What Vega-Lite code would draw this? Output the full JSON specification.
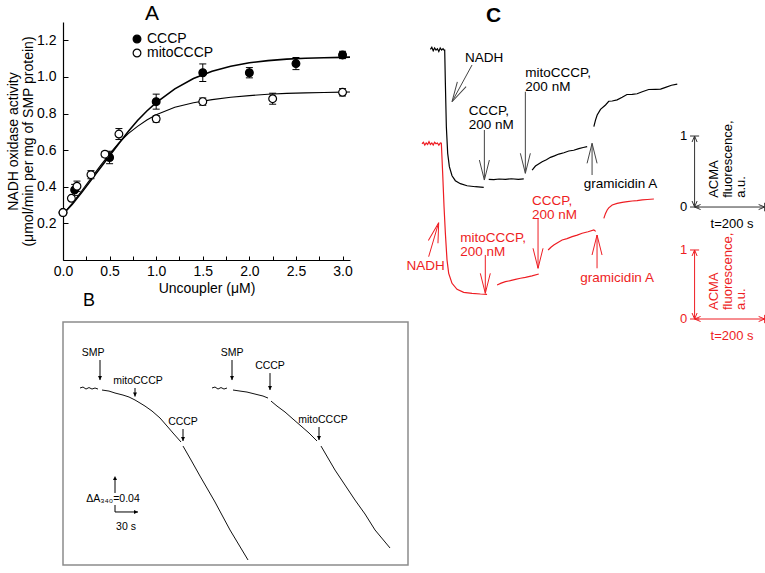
{
  "$schema": "https://vega.github.io/schema/vega-lite/v6.json",
  "background": "white",
  "padding": {"left": 6, "top": 3, "right": 0, "bottom": 1},
  "config": {
    "font": "Liberation Sans",
    "view": {"stroke": null},
    "axis": {"grid": false, "domainColor": "black", "tickColor": "black", "labelColor": "black", "titleColor": "black", "titleFontWeight": "normal", "labelFont": "Liberation Sans", "titleFont": "Liberation Sans"},
    "legend": {"labelFont": "Liberation Sans", "labelColor": "black"},
    "title": {"font": "Liberation Sans", "color": "black"},
    "text": {"font": "Liberation Sans"}
  },
  "datasets": {
    "curveA": [
      {"x": 0, "y": 0.25, "series": "CCCP"}, {"x": 0.1, "y": 0.305, "series": "CCCP"}, {"x": 0.2, "y": 0.368, "series": "CCCP"}, {"x": 0.3, "y": 0.435, "series": "CCCP"}, {"x": 0.4, "y": 0.503, "series": "CCCP"}, {"x": 0.5, "y": 0.57, "series": "CCCP"}, {"x": 0.6, "y": 0.636, "series": "CCCP"}, {"x": 0.7, "y": 0.702, "series": "CCCP"}, {"x": 0.8, "y": 0.762, "series": "CCCP"}, {"x": 0.9, "y": 0.814, "series": "CCCP"}, {"x": 1.0, "y": 0.86, "series": "CCCP"}, {"x": 1.2, "y": 0.935, "series": "CCCP"}, {"x": 1.4, "y": 0.991, "series": "CCCP"}, {"x": 1.6, "y": 1.031, "series": "CCCP"}, {"x": 1.8, "y": 1.058, "series": "CCCP"}, {"x": 2.0, "y": 1.077, "series": "CCCP"}, {"x": 2.2, "y": 1.089, "series": "CCCP"}, {"x": 2.4, "y": 1.097, "series": "CCCP"}, {"x": 2.6, "y": 1.102, "series": "CCCP"}, {"x": 2.8, "y": 1.105, "series": "CCCP"}, {"x": 3.0, "y": 1.107, "series": "CCCP"}, {"x": 3.08, "y": 1.108, "series": "CCCP"},
      {"x": 0, "y": 0.25, "series": "mitoCCCP"}, {"x": 0.1, "y": 0.31, "series": "mitoCCCP"}, {"x": 0.2, "y": 0.377, "series": "mitoCCCP"}, {"x": 0.3, "y": 0.446, "series": "mitoCCCP"}, {"x": 0.4, "y": 0.514, "series": "mitoCCCP"}, {"x": 0.5, "y": 0.58, "series": "mitoCCCP"}, {"x": 0.6, "y": 0.64, "series": "mitoCCCP"}, {"x": 0.7, "y": 0.69, "series": "mitoCCCP"}, {"x": 0.8, "y": 0.73, "series": "mitoCCCP"}, {"x": 0.9, "y": 0.765, "series": "mitoCCCP"}, {"x": 1.0, "y": 0.793, "series": "mitoCCCP"}, {"x": 1.2, "y": 0.834, "series": "mitoCCCP"}, {"x": 1.4, "y": 0.859, "series": "mitoCCCP"}, {"x": 1.6, "y": 0.876, "series": "mitoCCCP"}, {"x": 1.8, "y": 0.889, "series": "mitoCCCP"}, {"x": 2.0, "y": 0.898, "series": "mitoCCCP"}, {"x": 2.2, "y": 0.905, "series": "mitoCCCP"}, {"x": 2.4, "y": 0.91, "series": "mitoCCCP"}, {"x": 2.6, "y": 0.913, "series": "mitoCCCP"}, {"x": 2.8, "y": 0.915, "series": "mitoCCCP"}, {"x": 3.0, "y": 0.917, "series": "mitoCCCP"}, {"x": 3.08, "y": 0.918, "series": "mitoCCCP"}
    ],
    "ptsA": [
      {"x": 0, "y": 0.259, "lo": 0.259, "hi": 0.259, "series": "CCCP"}, {"x": 0.125, "y": 0.383, "lo": 0.353, "hi": 0.413, "series": "CCCP"}, {"x": 0.5, "y": 0.56, "lo": 0.526, "hi": 0.594, "series": "CCCP"}, {"x": 1.0, "y": 0.865, "lo": 0.824, "hi": 0.906, "series": "CCCP"}, {"x": 1.5, "y": 1.023, "lo": 0.975, "hi": 1.071, "series": "CCCP"}, {"x": 2.0, "y": 1.023, "lo": 0.995, "hi": 1.051, "series": "CCCP"}, {"x": 2.5, "y": 1.073, "lo": 1.04, "hi": 1.106, "series": "CCCP"}, {"x": 3.0, "y": 1.12, "lo": 1.1, "hi": 1.14, "series": "CCCP"},
      {"x": 0, "y": 0.259, "lo": 0.259, "hi": 0.259, "series": "mitoCCCP"}, {"x": 0.09, "y": 0.337, "lo": 0.327, "hi": 0.347, "series": "mitoCCCP"}, {"x": 0.15, "y": 0.403, "lo": 0.375, "hi": 0.431, "series": "mitoCCCP"}, {"x": 0.3, "y": 0.466, "lo": 0.444, "hi": 0.488, "series": "mitoCCCP"}, {"x": 0.45, "y": 0.578, "lo": 0.563, "hi": 0.593, "series": "mitoCCCP"}, {"x": 0.6, "y": 0.688, "lo": 0.658, "hi": 0.718, "series": "mitoCCCP"}, {"x": 1.0, "y": 0.771, "lo": 0.753, "hi": 0.789, "series": "mitoCCCP"}, {"x": 1.5, "y": 0.865, "lo": 0.845, "hi": 0.885, "series": "mitoCCCP"}, {"x": 2.25, "y": 0.881, "lo": 0.851, "hi": 0.911, "series": "mitoCCCP"}, {"x": 3.0, "y": 0.916, "lo": 0.896, "hi": 0.936, "series": "mitoCCCP"}
    ],
    "trB": [
      {"t": 13, "A": 0.236, "seg": "L1"}, {"t": 16.9, "A": 0.2373, "seg": "L1"}, {"t": 20.8, "A": 0.2346, "seg": "L1"}, {"t": 24.7, "A": 0.2366, "seg": "L1"}, {"t": 28.6, "A": 0.2346, "seg": "L1"}, {"t": 32.5, "A": 0.236, "seg": "L1"}, {"t": 36.4, "A": 0.2346, "seg": "L1"},
      {"t": 41.6, "A": 0.2333, "seg": "L2"}, {"t": 50.7, "A": 0.2319, "seg": "L2"}, {"t": 58.5, "A": 0.2293, "seg": "L2"}, {"t": 68.9, "A": 0.2266, "seg": "L2"}, {"t": 76.7, "A": 0.224, "seg": "L2"}, {"t": 84.5, "A": 0.22, "seg": "L2"}, {"t": 91, "A": 0.216, "seg": "L2"}, {"t": 97.5, "A": 0.2119, "seg": "L2"}, {"t": 106.6, "A": 0.2053, "seg": "L2"}, {"t": 117, "A": 0.196, "seg": "L2"}, {"t": 126.1, "A": 0.1853, "seg": "L2"}, {"t": 133.9, "A": 0.176, "seg": "L2"}, {"t": 144.3, "A": 0.164, "seg": "L2"},
      {"t": 146.9, "A": 0.1586, "seg": "L3"}, {"t": 157.3, "A": 0.14, "seg": "L3"}, {"t": 169, "A": 0.1186, "seg": "L3"}, {"t": 188.5, "A": 0.084, "seg": "L3"}, {"t": 208, "A": 0.0467, "seg": "L3"}, {"t": 231.4, "A": 0.0067, "seg": "L3"},
      {"t": 184.6, "A": 0.236, "seg": "R1"}, {"t": 188.5, "A": 0.2373, "seg": "R1"}, {"t": 192.4, "A": 0.2346, "seg": "R1"}, {"t": 196.3, "A": 0.2366, "seg": "R1"}, {"t": 200.2, "A": 0.2346, "seg": "R1"}, {"t": 204.1, "A": 0.236, "seg": "R1"},
      {"t": 211.9, "A": 0.2333, "seg": "R2"}, {"t": 221, "A": 0.2319, "seg": "R2"}, {"t": 230.1, "A": 0.2306, "seg": "R2"}, {"t": 237.9, "A": 0.2286, "seg": "R2"}, {"t": 245.7, "A": 0.2266, "seg": "R2"}, {"t": 250.9, "A": 0.2253, "seg": "R2"}, {"t": 257.4, "A": 0.2226, "seg": "R2"},
      {"t": 261.3, "A": 0.2186, "seg": "R3"}, {"t": 269.1, "A": 0.2119, "seg": "R3"}, {"t": 279.5, "A": 0.204, "seg": "R3"}, {"t": 289.9, "A": 0.1946, "seg": "R3"}, {"t": 300.3, "A": 0.1853, "seg": "R3"}, {"t": 310.7, "A": 0.176, "seg": "R3"}, {"t": 321.1, "A": 0.1653, "seg": "R3"},
      {"t": 326.3, "A": 0.1586, "seg": "R4"}, {"t": 344.5, "A": 0.1266, "seg": "R4"}, {"t": 357.5, "A": 0.1066, "seg": "R4"}, {"t": 370.5, "A": 0.0866, "seg": "R4"}, {"t": 383.5, "A": 0.068, "seg": "R4"}, {"t": 396.5, "A": 0.0467, "seg": "R4"}, {"t": 416, "A": 0.0227, "seg": "R4"}
    ],
    "arB": [
      {"t": 39.0, "a1": 0.2733, "a2": 0.2466}, {"t": 84.5, "a1": 0.236, "a2": 0.2246}, {"t": 146.9, "a1": 0.1813, "a2": 0.1653},
      {"t": 210.6, "a1": 0.2733, "a2": 0.2466}, {"t": 260.0, "a1": 0.2559, "a2": 0.2333}, {"t": 323.7, "a1": 0.184, "a2": 0.1666}
    ],
    "lbB": [
      {"t": 29.9, "A": 0.2826, "text": "SMP"}, {"t": 88.4, "A": 0.2453, "text": "mitoCCCP"}, {"t": 146.9, "A": 0.1906, "text": "CCCP"},
      {"t": 210.6, "A": 0.2826, "text": "SMP"}, {"t": 260.0, "A": 0.2653, "text": "CCCP"}, {"t": 328.9, "A": 0.1933, "text": "mitoCCCP"}
    ],
    "sbBrule": [
      {"t1": 58.5, "a1": 0.0707, "t2": 58.5, "a2": 0.08}, {"t1": 58.5, "a1": 0.096, "t2": 58.5, "a2": 0.116}, {"t1": 58.5, "a1": 0.0707, "t2": 88.4, "a2": 0.0707}
    ],
    "sbBhead": [
      {"t": 58.5, "a": 0.1186, "dir": "up"}, {"t": 88.4, "a": 0.0707, "dir": "right"}
    ],
    "sbBtext": [
      {"t": 55.9, "a": 0.0886, "text": "ΔA₃₄₀=0.04"}, {"t": 72.8, "a": 0.0507, "text": "30 s"}
    ],
    "trCb": [
      {"t": 24, "v": 2.22, "seg": 1}, {"t": 28, "v": 2.25, "seg": 1}, {"t": 32, "v": 2.2, "seg": 1}, {"t": 36, "v": 2.24, "seg": 1}, {"t": 40, "v": 2.21, "seg": 1}, {"t": 44, "v": 2.23, "seg": 1}, {"t": 48, "v": 2.19, "seg": 1}, {"t": 52, "v": 2.24, "seg": 1}, {"t": 56, "v": 2.21, "seg": 1}, {"t": 60, "v": 2.23, "seg": 1}, {"t": 63, "v": 2.21, "seg": 1}, {"t": 64.8, "v": 2.21, "seg": 1}, {"t": 66.7, "v": 1.742, "seg": 1}, {"t": 69.5, "v": 1.131, "seg": 1}, {"t": 73.3, "v": 0.756, "seg": 1}, {"t": 78.1, "v": 0.568, "seg": 1}, {"t": 85.7, "v": 0.441, "seg": 1}, {"t": 95.2, "v": 0.371, "seg": 1}, {"t": 109.5, "v": 0.329, "seg": 1}, {"t": 128.6, "v": 0.3, "seg": 1}, {"t": 152.4, "v": 0.286, "seg": 1}, {"t": 176.2, "v": 0.277, "seg": 1},
      {"t": 190.5, "v": 0.39, "seg": 2}, {"t": 205, "v": 0.385, "seg": 2}, {"t": 220, "v": 0.395, "seg": 2}, {"t": 238.1, "v": 0.39, "seg": 2}, {"t": 255, "v": 0.398, "seg": 2}, {"t": 275, "v": 0.39, "seg": 2}, {"t": 290.5, "v": 0.396, "seg": 2},
      {"t": 314.3, "v": 0.521, "seg": 3}, {"t": 323.8, "v": 0.577, "seg": 3}, {"t": 342.9, "v": 0.638, "seg": 3}, {"t": 355, "v": 0.665, "seg": 3}, {"t": 366.7, "v": 0.7, "seg": 3}, {"t": 378, "v": 0.72, "seg": 3}, {"t": 390.5, "v": 0.746, "seg": 3}, {"t": 405, "v": 0.765, "seg": 3}, {"t": 419, "v": 0.789, "seg": 3}, {"t": 433, "v": 0.8, "seg": 3}, {"t": 447.6, "v": 0.822, "seg": 3}, {"t": 460, "v": 0.838, "seg": 3}, {"t": 471.4, "v": 0.85, "seg": 3},
      {"t": 490.5, "v": 1.131, "seg": 4}, {"t": 495.2, "v": 1.225, "seg": 4}, {"t": 500, "v": 1.296, "seg": 4}, {"t": 509.5, "v": 1.376, "seg": 4}, {"t": 523.8, "v": 1.437, "seg": 4}, {"t": 533, "v": 1.49, "seg": 4}, {"t": 542.9, "v": 1.493, "seg": 4}, {"t": 557, "v": 1.51, "seg": 4}, {"t": 571.4, "v": 1.545, "seg": 4}, {"t": 585, "v": 1.585, "seg": 4}, {"t": 600, "v": 1.587, "seg": 4}, {"t": 614, "v": 1.595, "seg": 4}, {"t": 628.6, "v": 1.624, "seg": 4}, {"t": 647, "v": 1.655, "seg": 4}, {"t": 666.7, "v": 1.657, "seg": 4}, {"t": 681, "v": 1.66, "seg": 4}, {"t": 695.2, "v": 1.685, "seg": 4}, {"t": 712, "v": 1.715, "seg": 4}, {"t": 728.6, "v": 1.732, "seg": 4}
    ],
    "trCr": [
      {"t": 0, "v": 2.54, "seg": 1}, {"t": 4, "v": 2.56, "seg": 1}, {"t": 8, "v": 2.52, "seg": 1}, {"t": 12, "v": 2.55, "seg": 1}, {"t": 16, "v": 2.53, "seg": 1}, {"t": 20, "v": 2.57, "seg": 1}, {"t": 24, "v": 2.53, "seg": 1}, {"t": 28, "v": 2.55, "seg": 1}, {"t": 32, "v": 2.52, "seg": 1}, {"t": 36, "v": 2.56, "seg": 1}, {"t": 40, "v": 2.54, "seg": 1}, {"t": 44, "v": 2.55, "seg": 1}, {"t": 48, "v": 2.52, "seg": 1}, {"t": 52.4, "v": 2.55, "seg": 1}, {"t": 55.2, "v": 2.546, "seg": 1}, {"t": 59, "v": 2.111, "seg": 1}, {"t": 62.9, "v": 1.628, "seg": 1}, {"t": 66.7, "v": 1.242, "seg": 1}, {"t": 71.4, "v": 0.855, "seg": 1}, {"t": 76.2, "v": 0.662, "seg": 1}, {"t": 85.7, "v": 0.517, "seg": 1}, {"t": 100, "v": 0.43, "seg": 1}, {"t": 119, "v": 0.386, "seg": 1}, {"t": 142.9, "v": 0.372, "seg": 1}, {"t": 166.7, "v": 0.362, "seg": 1}, {"t": 185.7, "v": 0.357, "seg": 1},
      {"t": 214.3, "v": 0.493, "seg": 2}, {"t": 226, "v": 0.52, "seg": 2}, {"t": 238.1, "v": 0.541, "seg": 2}, {"t": 252, "v": 0.555, "seg": 2}, {"t": 266.7, "v": 0.575, "seg": 2}, {"t": 281, "v": 0.59, "seg": 2}, {"t": 295.2, "v": 0.604, "seg": 2}, {"t": 314, "v": 0.625, "seg": 2}, {"t": 333.3, "v": 0.652, "seg": 2},
      {"t": 360, "v": 1.0, "seg": 3}, {"t": 368, "v": 1.04, "seg": 3}, {"t": 376.2, "v": 1.072, "seg": 3}, {"t": 388, "v": 1.11, "seg": 3}, {"t": 400, "v": 1.145, "seg": 3}, {"t": 414, "v": 1.165, "seg": 3}, {"t": 428.6, "v": 1.193, "seg": 3}, {"t": 443, "v": 1.215, "seg": 3}, {"t": 457.1, "v": 1.242, "seg": 3}, {"t": 474, "v": 1.265, "seg": 3}, {"t": 490.5, "v": 1.29, "seg": 3}, {"t": 496, "v": 1.27, "seg": 3},
      {"t": 519, "v": 1.459, "seg": 4}, {"t": 523.8, "v": 1.53, "seg": 4}, {"t": 528.6, "v": 1.58, "seg": 4}, {"t": 533, "v": 1.61, "seg": 4}, {"t": 542.9, "v": 1.652, "seg": 4}, {"t": 557, "v": 1.675, "seg": 4}, {"t": 571.4, "v": 1.691, "seg": 4}, {"t": 586, "v": 1.7, "seg": 4}, {"t": 600, "v": 1.71, "seg": 4}, {"t": 614, "v": 1.715, "seg": 4}, {"t": 628.6, "v": 1.725, "seg": 4}, {"t": 643, "v": 1.732, "seg": 4}, {"t": 661.9, "v": 1.739, "seg": 4}
    ],
    "arCb": [
      {"t1": 142.8, "v1": 2.0, "t2": 85.7, "v2": 1.483, "dir": "diag"},
      {"t1": 178, "v1": 1.085, "t2": 178, "v2": 0.38, "dir": "down"},
      {"t1": 295, "v1": 1.624, "t2": 295, "v2": 0.475, "dir": "down"},
      {"t1": 485.4, "v1": 0.451, "t2": 485.4, "v2": 0.897, "dir": "up"}
    ],
    "arCr": [
      {"t1": 19.0, "v1": 0.903, "t2": 47.6, "v2": 1.396, "dir": "diag"},
      {"t1": 180.7, "v1": 0.928, "t2": 180.7, "v2": 0.372, "dir": "down"},
      {"t1": 331.2, "v1": 1.459, "t2": 331.2, "v2": 0.735, "dir": "down"},
      {"t1": 499.6, "v1": 0.735, "t2": 499.6, "v2": 1.217, "dir": "up"}
    ],
    "lbCb": [
      {"t": 122.8, "v": 2.046, "text": "NADH"},
      {"t": 133.3, "v": 1.296, "text": "CCCP,\n200 nM"},
      {"t": 295, "v": 1.835, "text": "mitoCCCP,\n200 nM"},
      {"t": 461.6, "v": 0.263, "text": "gramicidin A"}
    ],
    "lbCr": [
      {"t": -44.3, "v": 0.71, "text": "NADH"},
      {"t": 109.4, "v": 1.12, "text": "mitoCCCP,\n200 nM"},
      {"t": 314, "v": 1.652, "text": "CCCP,\n200 nM"},
      {"t": 452, "v": 0.541, "text": "gramicidin A"}
    ],
    "sbRule": [
      {"t1": 778, "v1": 0, "t2": 778, "v2": 1}, {"t1": 778, "v1": 0, "t2": 978, "v2": 0},
      {"t1": 765, "v1": 1, "t2": 791, "v2": 1}, {"t1": 765, "v1": 0, "t2": 791, "v2": 0},
      {"t1": 978, "v1": -0.06, "t2": 978, "v2": 0.06}
    ],
    "sbHead": [
      {"t": 778, "v": 1, "dir": "up"}, {"t": 778, "v": 0, "dir": "down"}, {"t": 778, "v": 0, "dir": "left"}, {"t": 978, "v": 0, "dir": "right"}
    ],
    "sbNum": [{"t": 757, "v": 1, "text": "1"}, {"t": 757, "v": 0, "text": "0"}],
    "sbT": [{"t": 885, "v": -0.24, "text": "t=200 s"}],
    "sbAcma": [{"t": 816.5, "v": 0.13, "text": "ACMA\nfluorescence,\na.u."}]
  },
  "bounds": "flush",
  "columns": 2,
  "spacing": {"row": 4, "column": 14},
  "resolve": {"scale": {"fill": "independent"}, "legend": {"fill": "independent"}},
  "concat": [
    {
      "width": 287,
      "height": 238,
      "title": {"text": "A", "anchor": "start", "frame": "group", "dx": 82, "offset": -19, "baseline": "alphabetic", "fontSize": 21, "fontWeight": "normal"},
      "layer": [
        {
          "data": {"name": "curveA"},
          "transform": [{"filter": "datum.series == 'CCCP'"}],
          "mark": {"type": "line", "color": "black", "strokeWidth": 1.6},
          "encoding": {
            "x": {"field": "x", "type": "quantitative", "scale": {"domain": [0, 3.08], "nice": false, "zero": false},
              "axis": {"title": "Uncoupler (μM)", "values": [0, 0.25, 0.5, 0.75, 1, 1.25, 1.5, 1.75, 2, 2.25, 2.5, 2.75, 3], "labelExpr": "round(datum.value*4) % 2 == 0 ? format(datum.value, '.1f') : ''", "tickSize": -4, "labelFontSize": 14, "titleFontSize": 14, "labelPadding": 8, "titlePadding": 3, "labelFlush": false, "labelOverlap": false, "domainWidth": 1.2, "tickWidth": 1}},
            "y": {"field": "y", "type": "quantitative", "scale": {"domain": [0, 1.3], "nice": false, "zero": false},
              "axis": {"title": ["NADH oxidase activity", "(μmol/min per mg of SMP protein)"], "values": [0.2, 0.4, 0.6, 0.8, 1.0, 1.2], "format": ".1f", "tickSize": -5, "labelFontSize": 14, "titleFontSize": 14, "titleLineHeight": 15, "labelPadding": 12, "titlePadding": 1, "labelFlush": false, "labelOverlap": false, "domainWidth": 1.2, "tickWidth": 1}}
          }
        },
        {
          "data": {"name": "curveA"},
          "transform": [{"filter": "datum.series == 'mitoCCCP'"}],
          "mark": {"type": "line", "color": "black", "strokeWidth": 1.1},
          "encoding": {
            "x": {"field": "x", "type": "quantitative",
              "axis": {"title": "Uncoupler (μM)", "values": [0, 0.25, 0.5, 0.75, 1, 1.25, 1.5, 1.75, 2, 2.25, 2.5, 2.75, 3], "labelExpr": "round(datum.value*4) % 2 == 0 ? format(datum.value, '.1f') : ''", "tickSize": -4, "labelFontSize": 14, "titleFontSize": 14, "labelPadding": 8, "titlePadding": 3, "labelFlush": false, "labelOverlap": false, "domainWidth": 1.2, "tickWidth": 1}},
            "y": {"field": "y", "type": "quantitative",
              "axis": {"title": ["NADH oxidase activity", "(μmol/min per mg of SMP protein)"], "values": [0.2, 0.4, 0.6, 0.8, 1.0, 1.2], "format": ".1f", "tickSize": -5, "labelFontSize": 14, "titleFontSize": 14, "titleLineHeight": 15, "labelPadding": 12, "titlePadding": 1, "labelFlush": false, "labelOverlap": false, "domainWidth": 1.2, "tickWidth": 1}}
          }
        },
        {
          "data": {"name": "ptsA"},
          "mark": {"type": "rule", "color": "black", "strokeWidth": 1},
          "encoding": {
            "x": {"field": "x", "type": "quantitative",
              "axis": {"title": "Uncoupler (μM)", "values": [0, 0.25, 0.5, 0.75, 1, 1.25, 1.5, 1.75, 2, 2.25, 2.5, 2.75, 3], "labelExpr": "round(datum.value*4) % 2 == 0 ? format(datum.value, '.1f') : ''", "tickSize": -4, "labelFontSize": 14, "titleFontSize": 14, "labelPadding": 8, "titlePadding": 3, "labelFlush": false, "labelOverlap": false, "domainWidth": 1.2, "tickWidth": 1}},
            "y": {"field": "lo", "type": "quantitative",
              "axis": {"title": ["NADH oxidase activity", "(μmol/min per mg of SMP protein)"], "values": [0.2, 0.4, 0.6, 0.8, 1.0, 1.2], "format": ".1f", "tickSize": -5, "labelFontSize": 14, "titleFontSize": 14, "titleLineHeight": 15, "labelPadding": 12, "titlePadding": 1, "labelFlush": false, "labelOverlap": false, "domainWidth": 1.2, "tickWidth": 1}},
            "y2": {"field": "hi"}
          }
        },
        {
          "data": {"name": "ptsA"},
          "mark": {"type": "tick", "orient": "horizontal", "size": 7, "thickness": 1, "color": "black", "opacity": 1},
          "encoding": {
            "x": {"field": "x", "type": "quantitative",
              "axis": {"title": "Uncoupler (μM)", "values": [0, 0.25, 0.5, 0.75, 1, 1.25, 1.5, 1.75, 2, 2.25, 2.5, 2.75, 3], "labelExpr": "round(datum.value*4) % 2 == 0 ? format(datum.value, '.1f') : ''", "tickSize": -4, "labelFontSize": 14, "titleFontSize": 14, "labelPadding": 8, "titlePadding": 3, "labelFlush": false, "labelOverlap": false, "domainWidth": 1.2, "tickWidth": 1}},
            "y": {"field": "lo", "type": "quantitative",
              "axis": {"title": ["NADH oxidase activity", "(μmol/min per mg of SMP protein)"], "values": [0.2, 0.4, 0.6, 0.8, 1.0, 1.2], "format": ".1f", "tickSize": -5, "labelFontSize": 14, "titleFontSize": 14, "titleLineHeight": 15, "labelPadding": 12, "titlePadding": 1, "labelFlush": false, "labelOverlap": false, "domainWidth": 1.2, "tickWidth": 1}}
          }
        },
        {
          "data": {"name": "ptsA"},
          "mark": {"type": "tick", "orient": "horizontal", "size": 7, "thickness": 1, "color": "black", "opacity": 1},
          "encoding": {
            "x": {"field": "x", "type": "quantitative",
              "axis": {"title": "Uncoupler (μM)", "values": [0, 0.25, 0.5, 0.75, 1, 1.25, 1.5, 1.75, 2, 2.25, 2.5, 2.75, 3], "labelExpr": "round(datum.value*4) % 2 == 0 ? format(datum.value, '.1f') : ''", "tickSize": -4, "labelFontSize": 14, "titleFontSize": 14, "labelPadding": 8, "titlePadding": 3, "labelFlush": false, "labelOverlap": false, "domainWidth": 1.2, "tickWidth": 1}},
            "y": {"field": "hi", "type": "quantitative",
              "axis": {"title": ["NADH oxidase activity", "(μmol/min per mg of SMP protein)"], "values": [0.2, 0.4, 0.6, 0.8, 1.0, 1.2], "format": ".1f", "tickSize": -5, "labelFontSize": 14, "titleFontSize": 14, "titleLineHeight": 15, "labelPadding": 12, "titlePadding": 1, "labelFlush": false, "labelOverlap": false, "domainWidth": 1.2, "tickWidth": 1}}
          }
        },
        {
          "data": {"name": "ptsA"},
          "mark": {"type": "circle", "size": 60, "stroke": "black", "strokeWidth": 1.2, "opacity": 1},
          "encoding": {
            "x": {"field": "x", "type": "quantitative",
              "axis": {"title": "Uncoupler (μM)", "values": [0, 0.25, 0.5, 0.75, 1, 1.25, 1.5, 1.75, 2, 2.25, 2.5, 2.75, 3], "labelExpr": "round(datum.value*4) % 2 == 0 ? format(datum.value, '.1f') : ''", "tickSize": -4, "labelFontSize": 14, "titleFontSize": 14, "labelPadding": 8, "titlePadding": 3, "labelFlush": false, "labelOverlap": false, "domainWidth": 1.2, "tickWidth": 1}},
            "y": {"field": "y", "type": "quantitative",
              "axis": {"title": ["NADH oxidase activity", "(μmol/min per mg of SMP protein)"], "values": [0.2, 0.4, 0.6, 0.8, 1.0, 1.2], "format": ".1f", "tickSize": -5, "labelFontSize": 14, "titleFontSize": 14, "titleLineHeight": 15, "labelPadding": 12, "titlePadding": 1, "labelFlush": false, "labelOverlap": false, "domainWidth": 1.2, "tickWidth": 1}},
            "fill": {"field": "series", "type": "nominal", "scale": {"domain": ["CCCP", "mitoCCCP"], "range": ["black", "white"]},
              "legend": {"orient": "none", "legendX": 67, "legendY": 10, "title": null, "labelFontSize": 14, "symbolSize": 60, "symbolType": "circle", "symbolStrokeColor": "black", "symbolStrokeWidth": 1.2, "rowPadding": -1, "labelOffset": 3, "padding": 0}}
          }
        }
      ]
    },
    {
      "width": 343,
      "height": 296,
      "title": {"text": "C", "anchor": "start", "frame": "group", "dx": 64, "offset": -21, "baseline": "alphabetic", "fontSize": 21, "fontWeight": "bold"},
      "resolve": {"scale": {"y": "independent"}},
      "layer": [
        {
          "layer": [
            {
              "data": {"name": "trCb"},
              "mark": {"type": "line", "color": "black", "strokeWidth": 1.2},
              "encoding": {
                "x": {"field": "t", "type": "quantitative", "scale": {"domain": [0, 979], "nice": false, "zero": false}, "axis": null},
                "y": {"field": "v", "type": "quantitative", "scale": {"domain": [-1.563, 2.606], "nice": false, "zero": false}, "axis": null},
                "detail": {"field": "seg"}
              }
            },
            {
              "data": {"name": "arCb"},
              "mark": {"type": "rule", "color": "#444444", "strokeWidth": 1},
              "encoding": {"x": {"field": "t1", "type": "quantitative"}, "x2": {"field": "t2"}, "y": {"field": "v1", "type": "quantitative"}, "y2": {"field": "v2"}}
            },
            {
              "data": {"name": "arCb"},
              "transform": [{"filter": "datum.dir == 'down'"}],
              "mark": {"type": "point", "shape": "M-0.25,-1L0,0L0.25,-1", "filled": false, "size": 1600, "angle": 0, "color": "#444444", "strokeWidth": 1, "opacity": 1},
              "encoding": {"x": {"field": "t2", "type": "quantitative"}, "y": {"field": "v2", "type": "quantitative"}}
            },
            {
              "data": {"name": "arCb"},
              "transform": [{"filter": "datum.dir == 'up'"}],
              "mark": {"type": "point", "shape": "M-0.25,-1L0,0L0.25,-1", "filled": false, "size": 1600, "angle": 180, "color": "#444444", "strokeWidth": 1, "opacity": 1},
              "encoding": {"x": {"field": "t2", "type": "quantitative"}, "y": {"field": "v2", "type": "quantitative"}}
            },
            {
              "data": {"name": "arCb"},
              "transform": [{"filter": "datum.dir == 'diag'"}],
              "mark": {"type": "point", "shape": "M-0.25,-1L0,0L0.25,-1", "filled": false, "size": 1600, "angle": 29, "color": "#444444", "strokeWidth": 1, "opacity": 1},
              "encoding": {"x": {"field": "t2", "type": "quantitative"}, "y": {"field": "v2", "type": "quantitative"}}
            },
            {
              "data": {"name": "lbCb"},
              "mark": {"type": "text", "align": "left", "baseline": "alphabetic", "fontSize": 13.5, "lineBreak": "\n", "lineHeight": 14, "color": "black"},
              "encoding": {"x": {"field": "t", "type": "quantitative"}, "y": {"field": "v", "type": "quantitative"}, "text": {"field": "text"}}
            },
            {
              "data": {"name": "sbRule"},
              "mark": {"type": "rule", "color": "#333333", "strokeWidth": 1},
              "encoding": {"x": {"field": "t1", "type": "quantitative"}, "x2": {"field": "t2"}, "y": {"field": "v1", "type": "quantitative"}, "y2": {"field": "v2"}}
            },
            {
              "data": {"name": "sbHead"},
              "transform": [{"filter": "datum.dir == 'up'"}],
              "mark": {"type": "point", "shape": "M-0.42,-1L0,0L0.42,-1", "filled": false, "size": 144, "angle": 180, "color": "#333333", "strokeWidth": 1, "opacity": 1},
              "encoding": {"x": {"field": "t", "type": "quantitative"}, "y": {"field": "v", "type": "quantitative"}}
            },
            {
              "data": {"name": "sbHead"},
              "transform": [{"filter": "datum.dir == 'down'"}],
              "mark": {"type": "point", "shape": "M-0.42,-1L0,0L0.42,-1", "filled": false, "size": 144, "angle": 0, "color": "#333333", "strokeWidth": 1, "opacity": 1},
              "encoding": {"x": {"field": "t", "type": "quantitative"}, "y": {"field": "v", "type": "quantitative"}}
            },
            {
              "data": {"name": "sbHead"},
              "transform": [{"filter": "datum.dir == 'left'"}],
              "mark": {"type": "point", "shape": "M-0.42,-1L0,0L0.42,-1", "filled": false, "size": 144, "angle": 90, "color": "#333333", "strokeWidth": 1, "opacity": 1},
              "encoding": {"x": {"field": "t", "type": "quantitative"}, "y": {"field": "v", "type": "quantitative"}}
            },
            {
              "data": {"name": "sbHead"},
              "transform": [{"filter": "datum.dir == 'right'"}],
              "mark": {"type": "point", "shape": "M-0.42,-1L0,0L0.42,-1", "filled": false, "size": 144, "angle": 270, "color": "#333333", "strokeWidth": 1, "opacity": 1},
              "encoding": {"x": {"field": "t", "type": "quantitative"}, "y": {"field": "v", "type": "quantitative"}}
            },
            {
              "data": {"name": "sbNum"},
              "mark": {"type": "text", "align": "right", "baseline": "middle", "fontSize": 13, "color": "black"},
              "encoding": {"x": {"field": "t", "type": "quantitative"}, "y": {"field": "v", "type": "quantitative"}, "text": {"field": "text"}}
            },
            {
              "data": {"name": "sbT"},
              "mark": {"type": "text", "align": "center", "baseline": "middle", "fontSize": 13, "color": "black"},
              "encoding": {"x": {"field": "t", "type": "quantitative"}, "y": {"field": "v", "type": "quantitative"}, "text": {"field": "text"}}
            },
            {
              "data": {"name": "sbAcma"},
              "mark": {"type": "text", "align": "left", "baseline": "top", "angle": 270, "fontSize": 13, "lineBreak": "\n", "lineHeight": 13.5, "color": "black"},
              "encoding": {"x": {"field": "t", "type": "quantitative"}, "y": {"field": "v", "type": "quantitative"}, "text": {"field": "text"}}
            }
          ]
        },
        {
          "layer": [
            {
              "data": {"name": "trCr"},
              "mark": {"type": "line", "color": "#ee1d23", "strokeWidth": 1.2},
              "encoding": {
                "x": {"field": "t", "type": "quantitative", "axis": null},
                "y": {"field": "v", "type": "quantitative", "scale": {"domain": [0.0145, 4.304], "nice": false, "zero": false}, "axis": null},
                "detail": {"field": "seg"}
              }
            },
            {
              "data": {"name": "arCr"},
              "mark": {"type": "rule", "color": "#ee1d23", "strokeWidth": 1},
              "encoding": {"x": {"field": "t1", "type": "quantitative"}, "x2": {"field": "t2"}, "y": {"field": "v1", "type": "quantitative"}, "y2": {"field": "v2"}}
            },
            {
              "data": {"name": "arCr"},
              "transform": [{"filter": "datum.dir == 'down'"}],
              "mark": {"type": "point", "shape": "M-0.25,-1L0,0L0.25,-1", "filled": false, "size": 1600, "angle": 0, "color": "#ee1d23", "strokeWidth": 1, "opacity": 1},
              "encoding": {"x": {"field": "t2", "type": "quantitative"}, "y": {"field": "v2", "type": "quantitative"}}
            },
            {
              "data": {"name": "arCr"},
              "transform": [{"filter": "datum.dir == 'up'"}],
              "mark": {"type": "point", "shape": "M-0.25,-1L0,0L0.25,-1", "filled": false, "size": 1600, "angle": 180, "color": "#ee1d23", "strokeWidth": 1, "opacity": 1},
              "encoding": {"x": {"field": "t2", "type": "quantitative"}, "y": {"field": "v2", "type": "quantitative"}}
            },
            {
              "data": {"name": "arCr"},
              "transform": [{"filter": "datum.dir == 'diag'"}],
              "mark": {"type": "point", "shape": "M-0.25,-1L0,0L0.25,-1", "filled": false, "size": 1600, "angle": 196, "color": "#ee1d23", "strokeWidth": 1, "opacity": 1},
              "encoding": {"x": {"field": "t2", "type": "quantitative"}, "y": {"field": "v2", "type": "quantitative"}}
            },
            {
              "data": {"name": "lbCr"},
              "mark": {"type": "text", "align": "left", "baseline": "alphabetic", "fontSize": 13.5, "lineBreak": "\n", "lineHeight": 14, "color": "#ee1d23"},
              "encoding": {"x": {"field": "t", "type": "quantitative"}, "y": {"field": "v", "type": "quantitative"}, "text": {"field": "text"}}
            },
            {
              "data": {"name": "sbRule"},
              "mark": {"type": "rule", "color": "#ee1d23", "strokeWidth": 1},
              "encoding": {"x": {"field": "t1", "type": "quantitative"}, "x2": {"field": "t2"}, "y": {"field": "v1", "type": "quantitative"}, "y2": {"field": "v2"}}
            },
            {
              "data": {"name": "sbHead"},
              "transform": [{"filter": "datum.dir == 'up'"}],
              "mark": {"type": "point", "shape": "M-0.42,-1L0,0L0.42,-1", "filled": false, "size": 144, "angle": 180, "color": "#ee1d23", "strokeWidth": 1, "opacity": 1},
              "encoding": {"x": {"field": "t", "type": "quantitative"}, "y": {"field": "v", "type": "quantitative"}}
            },
            {
              "data": {"name": "sbHead"},
              "transform": [{"filter": "datum.dir == 'down'"}],
              "mark": {"type": "point", "shape": "M-0.42,-1L0,0L0.42,-1", "filled": false, "size": 144, "angle": 0, "color": "#ee1d23", "strokeWidth": 1, "opacity": 1},
              "encoding": {"x": {"field": "t", "type": "quantitative"}, "y": {"field": "v", "type": "quantitative"}}
            },
            {
              "data": {"name": "sbHead"},
              "transform": [{"filter": "datum.dir == 'left'"}],
              "mark": {"type": "point", "shape": "M-0.42,-1L0,0L0.42,-1", "filled": false, "size": 144, "angle": 90, "color": "#ee1d23", "strokeWidth": 1, "opacity": 1},
              "encoding": {"x": {"field": "t", "type": "quantitative"}, "y": {"field": "v", "type": "quantitative"}}
            },
            {
              "data": {"name": "sbHead"},
              "transform": [{"filter": "datum.dir == 'right'"}],
              "mark": {"type": "point", "shape": "M-0.42,-1L0,0L0.42,-1", "filled": false, "size": 144, "angle": 270, "color": "#ee1d23", "strokeWidth": 1, "opacity": 1},
              "encoding": {"x": {"field": "t", "type": "quantitative"}, "y": {"field": "v", "type": "quantitative"}}
            },
            {
              "data": {"name": "sbNum"},
              "mark": {"type": "text", "align": "right", "baseline": "middle", "fontSize": 13, "color": "#ee1d23"},
              "encoding": {"x": {"field": "t", "type": "quantitative"}, "y": {"field": "v", "type": "quantitative"}, "text": {"field": "text"}}
            },
            {
              "data": {"name": "sbT"},
              "mark": {"type": "text", "align": "center", "baseline": "middle", "fontSize": 13, "color": "#ee1d23"},
              "encoding": {"x": {"field": "t", "type": "quantitative"}, "y": {"field": "v", "type": "quantitative"}, "text": {"field": "text"}}
            },
            {
              "data": {"name": "sbAcma"},
              "mark": {"type": "text", "align": "left", "baseline": "top", "angle": 270, "fontSize": 13, "lineBreak": "\n", "lineHeight": 13.5, "color": "#ee1d23"},
              "encoding": {"x": {"field": "t", "type": "quantitative"}, "y": {"field": "v", "type": "quantitative"}, "text": {"field": "text"}}
            }
          ]
        }
      ]
    },
    {
      "width": 345,
      "height": 243,
      "view": {"stroke": "#8c8c8c", "strokeWidth": 1.5},
      "title": {"text": "B", "anchor": "start", "frame": "group", "dx": 20, "offset": -2, "baseline": "alphabetic", "fontSize": 18, "fontWeight": "normal"},
      "layer": [
        {
          "data": {"name": "trB"},
          "mark": {"type": "line", "color": "#111111", "strokeWidth": 1},
          "encoding": {
            "x": {"field": "t", "type": "quantitative", "scale": {"domain": [-9.1, 439.4], "nice": false, "zero": false}, "axis": null},
            "y": {"field": "A", "type": "quantitative", "scale": {"domain": [0, 0.324], "nice": false, "zero": false}, "axis": null},
            "detail": {"field": "seg"}
          }
        },
        {
          "data": {"name": "arB"},
          "mark": {"type": "rule", "color": "black", "strokeWidth": 1},
          "encoding": {"x": {"field": "t", "type": "quantitative"}, "y": {"field": "a1", "type": "quantitative"}, "y2": {"field": "a2"}}
        },
        {
          "data": {"name": "arB"},
          "mark": {"type": "point", "shape": "M-0.5,-1L0,0L0.5,-1Z", "filled": true, "size": 64, "color": "black", "opacity": 1},
          "encoding": {"x": {"field": "t", "type": "quantitative"}, "y": {"field": "a2", "type": "quantitative"}}
        },
        {
          "data": {"name": "lbB"},
          "mark": {"type": "text", "fontSize": 10.5, "align": "center", "baseline": "middle", "color": "black"},
          "encoding": {"x": {"field": "t", "type": "quantitative"}, "y": {"field": "A", "type": "quantitative"}, "text": {"field": "text"}}
        },
        {
          "data": {"name": "sbBrule"},
          "mark": {"type": "rule", "color": "black", "strokeWidth": 1},
          "encoding": {"x": {"field": "t1", "type": "quantitative"}, "x2": {"field": "t2"}, "y": {"field": "a1", "type": "quantitative"}, "y2": {"field": "a2"}}
        },
        {
          "data": {"name": "sbBhead"},
          "transform": [{"filter": "datum.dir == 'up'"}],
          "mark": {"type": "point", "shape": "M-0.5,-1L0,0L0.5,-1Z", "filled": true, "size": 64, "angle": 180, "color": "black", "opacity": 1},
          "encoding": {"x": {"field": "t", "type": "quantitative"}, "y": {"field": "a", "type": "quantitative"}}
        },
        {
          "data": {"name": "sbBhead"},
          "transform": [{"filter": "datum.dir == 'right'"}],
          "mark": {"type": "point", "shape": "M-0.5,-1L0,0L0.5,-1Z", "filled": true, "size": 64, "angle": 270, "color": "black", "opacity": 1},
          "encoding": {"x": {"field": "t", "type": "quantitative"}, "y": {"field": "a", "type": "quantitative"}}
        },
        {
          "data": {"name": "sbBtext"},
          "mark": {"type": "text", "fontSize": 10.5, "align": "center", "baseline": "middle", "color": "black"},
          "encoding": {"x": {"field": "t", "type": "quantitative"}, "y": {"field": "a", "type": "quantitative"}, "text": {"field": "text"}}
        }
      ]
    }
  ]
}
